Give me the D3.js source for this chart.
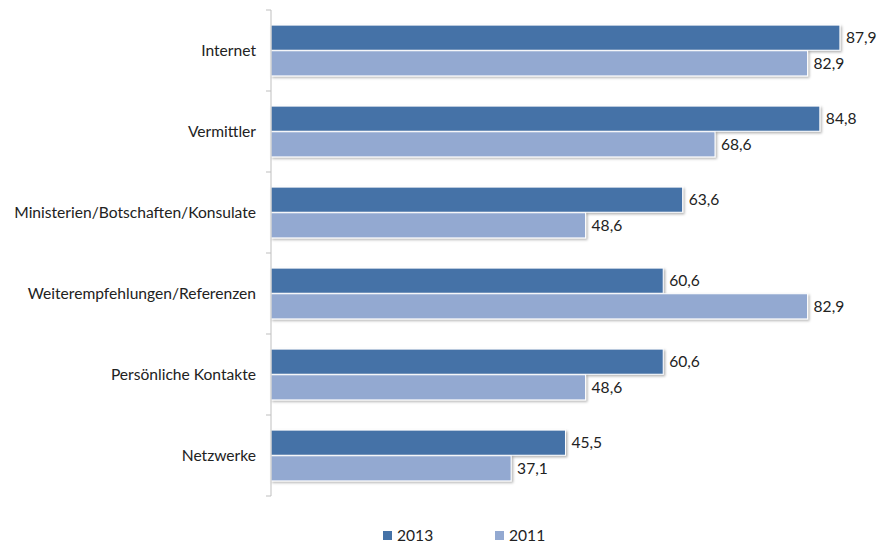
<!DOCTYPE html>
<html>
<head>
<meta charset="utf-8">
<script src="https://cdn.jsdelivr.net/npm/d3@7"></script>
<style>
  html, body { margin: 0; padding: 0; background: #fff; }
  svg { display: block; font-family: Lato, "Open Sans", sans-serif; }
</style>
</head>
<body>
<svg id="chart" width="880" height="544"></svg>
<script>
// Information sources, share in percent
const categories = [
  "Internet",
  "Vermittler",
  "Ministerien/Botschaften/Konsulate",
  "Weiterempfehlungen/Referenzen",
  "Persönliche Kontakte",
  "Netzwerke"
];
const seriesNames = ["2013", "2011"];
const values2013 = [87.9, 84.8, 63.6, 60.6, 60.6, 45.5];
const values2011 = [82.9, 68.6, 48.6, 82.9, 48.6, 37.1];
const seriesColors = ["#4572a7", "#93a9d1"];

const svg = d3.select("#chart");
const plot = { left: 271, top: 10, bottom: 496 };
const fontSize = 15.6;

const y = d3.scaleBand()
  .domain(categories)
  .range([plot.top, plot.bottom])
  .paddingInner(0.36)
  .paddingOuter(0.18);

const ySub = d3.scaleBand()
  .domain(seriesNames)
  .range([0, y.bandwidth()])
  .padding(0.02);

const x = d3.scaleLinear()
  .domain([0, 90])
  .range([plot.left, plot.left + 582.5]);

// soft drop shadow under the bars
const defs = svg.append("defs");
const f = defs.append("filter").attr("id", "shadow")
  .attr("x", "-5%").attr("y", "-20%").attr("width", "110%").attr("height", "150%");
f.append("feDropShadow")
  .attr("dx", 1.5).attr("dy", 1.5).attr("stdDeviation", 0.8)
  .attr("flood-color", "#000").attr("flood-opacity", 0.3);

const rows = categories.map((c, i) => ({
  cat: c,
  vals: [
    { s: seriesNames[0], v: values2013[i], color: seriesColors[0] },
    { s: seriesNames[1], v: values2011[i], color: seriesColors[1] }
  ]
}));

const groups = svg.append("g").selectAll("g")
  .data(rows)
  .join("g")
  .attr("transform", d => `translate(0,${y(d.cat)})`);

groups.selectAll("rect")
  .data(d => d.vals)
  .join("rect")
  .attr("x", x(0))
  .attr("y", d => ySub(d.s))
  .attr("width", d => x(d.v) - x(0))
  .attr("height", ySub.bandwidth())
  .attr("fill", d => d.color)
  .attr("stroke", "#fff")
  .attr("stroke-width", 1)
  .attr("filter", "url(#shadow)");

const fmt = v => d3.format(".1f")(v).replace(".", ",");

groups.selectAll("text.val")
  .data(d => d.vals)
  .join("text")
  .attr("class", "val")
  .attr("x", d => x(d.v) + 6)
  .attr("y", d => ySub(d.s) + ySub.bandwidth() / 2)
  .attr("dy", "0.35em")
  .attr("font-size", fontSize)
  .attr("fill", "#222")
  .text(d => fmt(d.v));

// category axis: ticks on band boundaries, labels centred in bands
const axisG = svg.append("g");
axisG.append("line")
  .attr("x1", plot.left).attr("x2", plot.left)
  .attr("y1", plot.top).attr("y2", plot.bottom)
  .attr("stroke", "#bfbfbf");
const step = (plot.bottom - plot.top) / categories.length;
const boundaries = d3.range(categories.length + 1).map(i => plot.top + i * step);
axisG.selectAll("line.tick")
  .data(boundaries)
  .join("line")
  .attr("class", "tick")
  .attr("x1", plot.left - 5).attr("x2", plot.left)
  .attr("y1", d => d).attr("y2", d => d)
  .attr("stroke", "#bfbfbf");
axisG.selectAll("text")
  .data(categories)
  .join("text")
  .attr("x", plot.left - 15)
  .attr("y", d => y(d) + y.bandwidth() / 2)
  .attr("dy", "0.35em")
  .attr("text-anchor", "end")
  .attr("font-size", fontSize)
  .attr("fill", "#222")
  .text(d => d);

// legend
const legend = svg.append("g").attr("transform", "translate(383,531)");
const li = legend.selectAll("g")
  .data(seriesNames)
  .join("g")
  .attr("transform", (d, i) => `translate(${i * 112},0)`);
li.append("rect")
  .attr("width", 9).attr("height", 9)
  .attr("fill", (d, i) => seriesColors[i]);
li.append("text")
  .attr("x", 14).attr("y", 4.5).attr("dy", "0.35em")
  .attr("font-size", fontSize).attr("fill", "#222")
  .text(d => d);
</script>
</body>
</html>
